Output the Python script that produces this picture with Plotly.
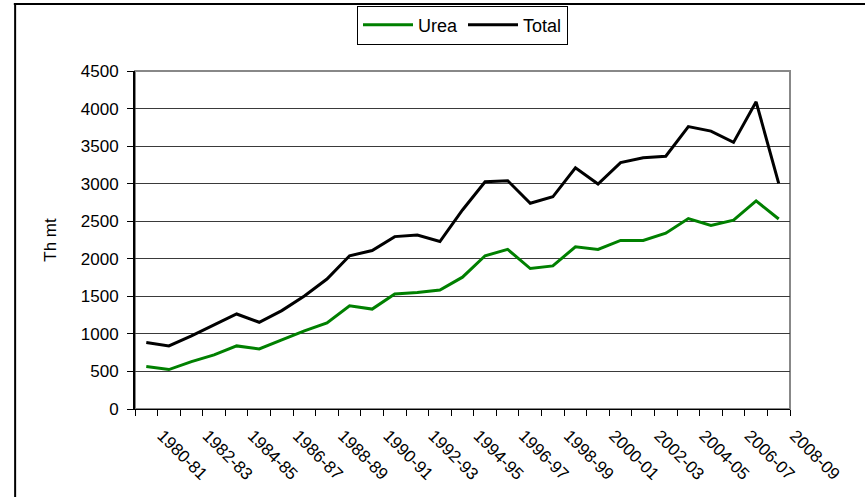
import plotly.graph_objects as go

## DATA (Th mt)
years = ['1980-81', '1981-82', '1982-83', '1983-84', '1984-85', '1985-86',
         '1986-87', '1987-88', '1988-89', '1989-90', '1990-91', '1991-92',
         '1992-93', '1993-94', '1994-95', '1995-96', '1996-97', '1997-98',
         '1998-99', '1999-00', '2000-01', '2001-02', '2002-03', '2003-04',
         '2004-05', '2005-06', '2006-07', '2007-08', '2008-09']
urea = [565, 525, 630, 720, 840, 800, 920, 1040, 1145, 1375, 1330, 1530,
        1550, 1585, 1755, 2040, 2125, 1870, 1905, 2160, 2125, 2245,
        2245, 2340, 2535, 2445, 2515, 2770, 2530]
total = [885, 840, 975, 1120, 1265, 1155, 1310, 1505, 1730, 2040, 2110, 2295,
         2315, 2230, 2650, 3025, 3040, 2740, 2825, 3210, 2995, 3280,
         3345, 3365, 3760, 3700, 3550, 4090, 3005]

idx = list(range(len(years)))
shown = idx[::2]   # every other year labelled

fig = go.Figure()
fig.add_trace(go.Scatter(x=idx, y=urea, name='Urea', mode='lines',
                         line=dict(color='#008000', width=3)))
fig.add_trace(go.Scatter(x=idx, y=total, name='Total', mode='lines',
                         line=dict(color='black', width=3)))

font = 'Liberation Sans, Arial, sans-serif'

fig.update_layout(
    width=865, height=497,
    margin=dict(l=135, r=75, t=71, b=88, autoexpand=False),
    paper_bgcolor='white', plot_bgcolor='white',
    font=dict(family=font, size=16, color='black'),
    showlegend=True,
    legend=dict(orientation='h', x=0.5, xanchor='center', y=1.136, yanchor='middle',
                bordercolor='black', borderwidth=1, font=dict(size=18),
                itemwidth=50, tracegroupgap=0),
    xaxis=dict(range=[-0.5, len(years) - 0.5], tickmode='array',
               tickvals=shown, ticktext=[years[i] for i in shown],
               tickangle=45, ticks='', showgrid=False, zeroline=False,
               showline=True, linecolor='black', linewidth=1, automargin=False,
               tickfont=dict(size=17), ticklabelstandoff=9, ticklabelshift=16,
               minor=dict(tickmode='linear', tick0=-0.5, dtick=1,
                          ticks='outside', ticklen=6, tickcolor='black',
                          showgrid=False)),
    yaxis=dict(range=[0, 4500], dtick=500, ticks='outside', ticklen=6,
               tickcolor='black', showgrid=True, gridcolor='#3a3a3a',
               gridwidth=1, zeroline=False, showline=True, automargin=False,
               linecolor='black', linewidth=2, tickfont=dict(size=17),
               ticklabelstandoff=5,
               title=dict(text='Th mt', standoff=20, font=dict(size=17))),
    shapes=[
        # grey border around plot area
        dict(type='rect', xref='paper', yref='paper', x0=0, x1=1, y0=0, y1=1,
             line=dict(color='#888888', width=2), layer='below'),
        # outer chart frame (top and left edges visible)
        dict(type='line', xref='paper', yref='paper', x0=-0.185, x1=1.2,
             y0=1.198, y1=1.198, line=dict(color='black', width=2)),
        dict(type='line', xref='paper', yref='paper', x0=-0.183, x1=-0.183,
             y0=-0.27, y1=1.198, line=dict(color='black', width=2)),
    ],
)

# drop the page's default body margin so the figure sits at the window corner
fig.write_html('out.html', config={'displayModeBar': False},
               post_script="document.body.style.margin='0';")
